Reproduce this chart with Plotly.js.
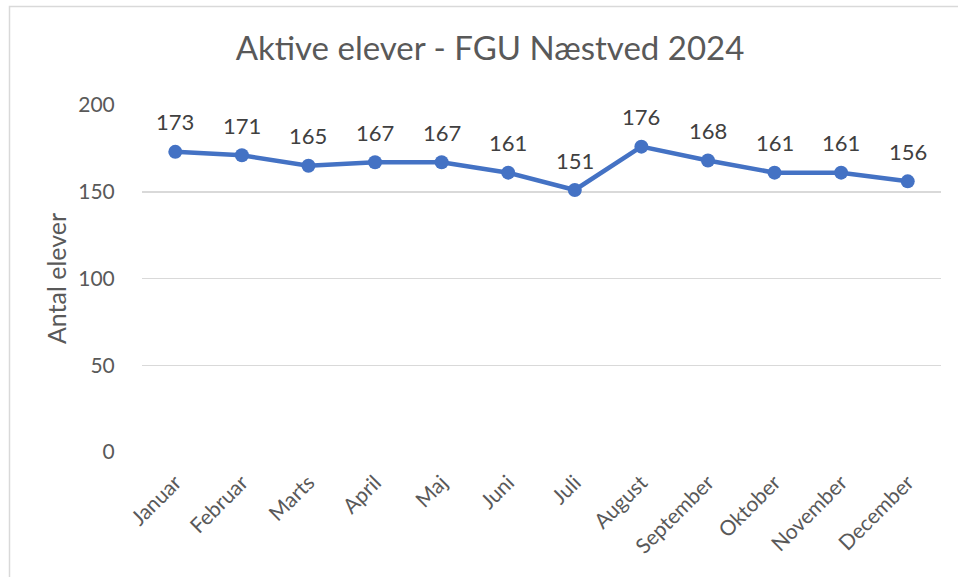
<!DOCTYPE html>
<html>
<head>
<meta charset="utf-8">
<script src="https://cdn.plot.ly/plotly-3.0.1.min.js"></script>
<style>html,body{margin:0;padding:0;background:#fff;}#chart{width:958px;height:577px;}</style>
</head>
<body>
<div id="chart"></div>
<script>
const months = ["Januar","Februar","Marts","April","Maj","Juni","Juli","August","September","Oktober","November","December"];
const students = [173,171,165,167,167,161,151,176,168,161,161,156];
const yTicks = [0,50,100,150,200];
const chartTitle = "Aktive elever - FGU Næstved 2024";
const yTitle = "Antal elever";

const font = "Lato, 'Open Sans', sans-serif";
const L = 142, R = 17, T = 105, B = 125;
const pw = 958 - L - R, ph = 577 - T - B;

const trace = {
  x: months, y: students, type: "scatter", mode: "lines+markers",
  line: {color: "#4472C4", width: 4.5},
  marker: {color: "#4472C4", size: 14},
  hoverinfo: "x+y"
};

const annotations = months.map((m, i) => ({
  x: m, y: students[i], xref: "x", yref: "y",
  text: String(students[i]), showarrow: false, yshift: 30,
  font: {family: font, size: 22, color: "#404040"}
}));

const layout = {
  width: 958, height: 577,
  margin: {l: L, r: R, t: T, b: B, pad: 0},
  paper_bgcolor: "#fff", plot_bgcolor: "#fff",
  showlegend: false,
  title: {text: chartTitle, xref: "container", x: 490/958, xanchor: "center", y: 1 - 48/577, yanchor: "middle",
          font: {family: font, size: 33, color: "#595959"}},
  xaxis: {type: "category", range: [-0.5, 11.5], tickangle: -45, showgrid: false,
          showline: false, zeroline: false, ticks: "outside", ticklen: 9, tickcolor: "rgba(0,0,0,0)",
          tickfont: {family: font, size: 21, color: "#595959"}, automargin: false},
  yaxis: {range: [0, 200], tickvals: yTicks, showgrid: true, gridcolor: "#D9D9D9", gridwidth: 1.5,
          zeroline: false, showline: false, ticks: "outside", ticklen: 22, tickcolor: "rgba(0,0,0,0)",
          tickfont: {family: font, size: 21, color: "#595959"},
          title: {text: yTitle, standoff: 4, font: {family: font, size: 25, color: "#595959"}},
          automargin: false},
  annotations: annotations,
  shapes: [{type: "rect", xref: "paper", yref: "paper",
            x0: (9.5 - L)/pw, x1: (990 - L)/pw, y0: -(600 - 452)/ph, y1: 1 + (T - 6.5)/ph,
            line: {color: "#D9D9D9", width: 1.5}, fillcolor: "rgba(0,0,0,0)", layer: "below"}]
};

Plotly.newPlot("chart", [trace], layout, {displayModeBar: false, staticPlot: true});
</script>
</body>
</html>
